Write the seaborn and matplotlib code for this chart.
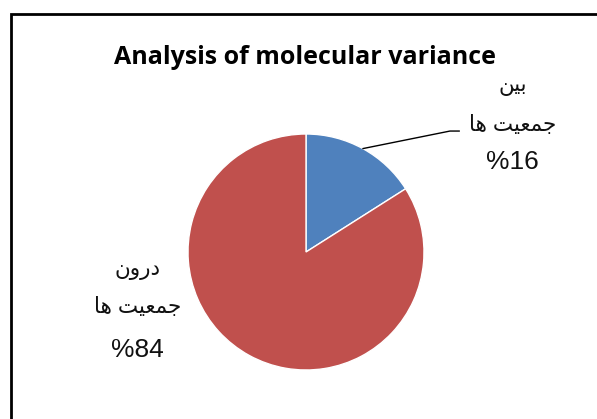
import numpy as np
import matplotlib
matplotlib.use("Agg")
import matplotlib.pyplot as plt
import seaborn as sns
from matplotlib.patches import Rectangle

# data
values = [16, 84]
# Persian labels written in presentation forms, visual order (matplotlib has no Arabic shaping)
labels = ["\uFEE6\uFEF4\uFE91\n\uFE8E\uFEEB \uFE96\uFEF4\uFECC\uFEE4\uFE9F",      # بین جمعیت ها
          "\uFEE5\uFEED\uFEAD\uFEA9\n\uFE8E\uFEEB \uFE96\uFEF4\uFECC\uFEE4\uFE9F"]  # درون جمعیت ها
colors = ["#4F81BD", "#C0504D"]
title = "Analysis of molecular variance"

sns.set_style("white")
plt.rcParams['font.family'] = ['Liberation Sans', 'DejaVu Sans']

W, H = 597, 419
fig = plt.figure(figsize=(W / 100, H / 100), dpi=100)

cx, cy, r = 306, 252, 118
ax = fig.add_axes([(cx - r) / W, (H - cy - r) / H, 2 * r / W, 2 * r / H])
wedges, _ = ax.pie(values, colors=colors, startangle=90, counterclock=False,
                   wedgeprops=dict(edgecolor="white", linewidth=1))
ax.set_xlim(-1, 1)
ax.set_ylim(-1, 1)
ax.set_aspect("equal")
ax.axis("off")

# label text positions (data units of the pie): x, y of each line
label_x = [1.75, -1.43]
label_y = [[1.41, 1.07, 0.76], [-0.15, -0.47, -0.83]]
for lab, v, x, ys in zip(labels, values, label_x, label_y):
    lines = lab.split("\n") + [f"%{v}"]
    for i, (line, y) in enumerate(zip(lines, ys)):
        fs = 19 if i == 2 else 15.5
        ax.text(x, y, line, ha="center", va="center", fontsize=fs,
                color="#111111", clip_on=False)

# leader line for the small slice
w = wedges[0]
mid = np.deg2rad((w.theta1 + w.theta2) / 2)
x0, y0 = np.cos(mid), np.sin(mid)
ax.plot([x0, 1.22, 1.30], [y0, 1.025, 1.025], color="black", lw=1, clip_on=False)

fig.text(305 / W, 1 - 58 / H, title, ha="center", va="center", fontsize=18,
         fontweight="bold", color="black", family=["Open Sans", "DejaVu Sans"])

# chart border
fig.patches.append(Rectangle((11 / W, -0.05), 1.2, 1 - 14 / H + 0.05, transform=fig.transFigure,
                             fill=False, edgecolor="black", linewidth=2, figure=fig))

fig.savefig("out.png", dpi=100)
